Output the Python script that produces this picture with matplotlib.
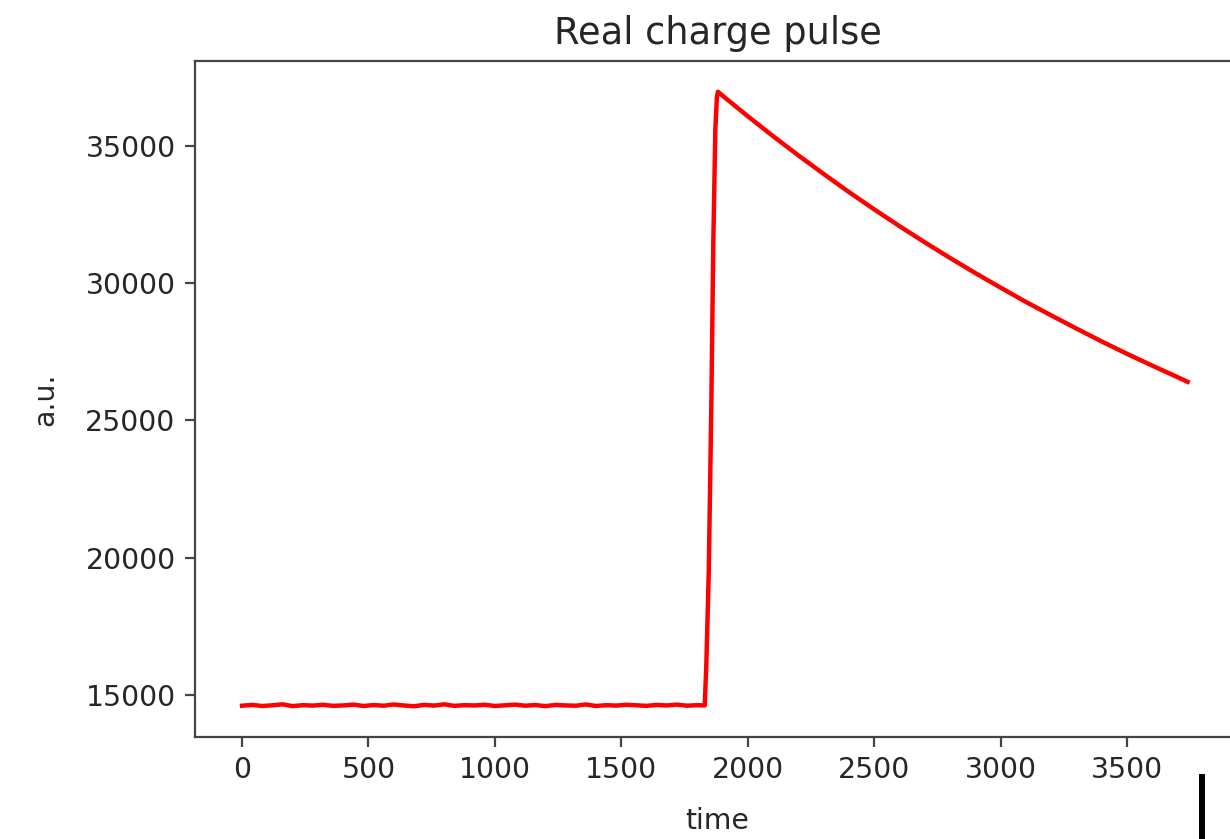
import matplotlib.pyplot as plt
from matplotlib.lines import Line2D

# baseline before the pulse (sampled every 40 time units)
baseline_time = list(range(0, 1801, 40))
baseline_vals = [14610, 14640, 14600, 14625, 14660, 14595, 14630, 14615, 14645, 14605,
                 14620, 14650, 14600, 14635, 14610, 14655, 14620, 14590, 14640, 14615,
                 14660, 14605, 14630, 14620, 14645, 14600, 14625, 14650, 14610, 14635,
                 14595, 14640, 14620, 14610, 14655, 14600, 14630, 14615, 14645, 14625,
                 14605, 14640, 14620, 14650, 14610, 14630]

# fast rise
rise_time = [1830, 1836, 1846, 1856, 1864, 1872, 1878, 1882]
rise_vals = [14620, 16000, 19500, 25500, 31500, 35600, 36750, 36960]

# slow decay
decay_time = [1900, 2000, 2100, 2200, 2300, 2400, 2500, 2600, 2700, 2800, 2900,
              3000, 3100, 3200, 3300, 3400, 3500, 3600, 3700, 3740]
decay_vals = [36820, 36070, 35345, 34645, 33970, 33310, 32680, 32070, 31480, 30910,
              30360, 29830, 29310, 28820, 28340, 27870, 27420, 26990, 26570, 26400]

time = baseline_time + rise_time + decay_time
charge = baseline_vals + rise_vals + decay_vals

TEXT = "#262626"
SPINE = "#444444"

fig = plt.figure(figsize=(12.3, 8.39), dpi=100)
ax = fig.add_axes([195 / 1230, 1 - 737 / 839, 1045 / 1230, (737 - 61) / 839])

ax.plot(time, charge, color="red", linewidth=3.2)
ax.set_xlim(-186, 3947)

ax.set_title("Real charge pulse", fontsize=26.5, color=TEXT, pad=12)
ax.set_xlabel("time", fontsize=20.4, color=TEXT, labelpad=16)
ax.set_ylabel("a.u.", fontsize=20.4, color=TEXT, labelpad=19)

ax.set_xticks([0, 500, 1000, 1500, 2000, 2500, 3000, 3500])
ax.set_yticks([15000, 20000, 25000, 30000, 35000])
ax.tick_params(labelsize=20.4, labelcolor=TEXT, color=SPINE,
               length=7, width=1.6, pad=7)
for s in ax.spines.values():
    s.set_color(SPINE)
    s.set_linewidth(1.6)

# cursor mark in the lower right corner of the screenshot
fig.add_artist(Line2D([1201.5 / 1230, 1201.5 / 1230], [0, 1 - 777 / 839],
                      color="black", linewidth=4.3))

fig.savefig("out.png", dpi=100)
